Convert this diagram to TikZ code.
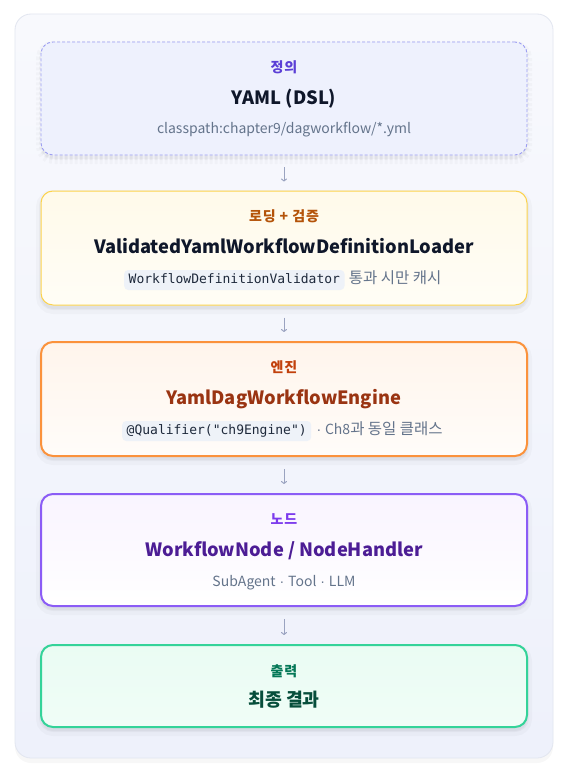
\documentclass[tikz,border=0pt]{standalone}
\usepackage{fontspec}
\setmainfont{Noto Sans CJK KR}
\newfontfamily\monofont{DejaVu Sans Mono}
\newfontfamily\dotfont{Liberation Sans}
\newcommand{\md}{{\dotfont\fontsize{14}{17}\selectfont\ ·\ }}
\newcommand{\ko}[1]{{\fontsize{15.5}{17}\selectfont #1}}
\usetikzlibrary{arrows.meta}
\definecolor{slateA}{HTML}{0F172A}
\definecolor{slateB}{HTML}{64748B}
\definecolor{slateC}{HTML}{1E293B}
\definecolor{chipbg}{HTML}{EEF2F8}
\definecolor{arrowc}{HTML}{9AA3C0}
\definecolor{outerline}{HTML}{E2E6F0}
\definecolor{outertop}{HTML}{F8F9FD}
\definecolor{outerbot}{HTML}{EEF1FB}
\definecolor{defline}{HTML}{9B9CF2}
\definecolor{deffill}{HTML}{EEF1FD}
\definecolor{deflab}{HTML}{5B3FD6}
\definecolor{loadline}{HTML}{FCD34D}
\definecolor{loadfill}{HTML}{FFFAEA}
\definecolor{loadfillb}{HTML}{FFFDF6}
\definecolor{loadlab}{HTML}{B45309}
\definecolor{engline}{HTML}{FB923C}
\definecolor{engfill}{HTML}{FFF5EC}
\definecolor{engfillb}{HTML}{FFFCF9}
\definecolor{englab}{HTML}{C2410C}
\definecolor{engttl}{HTML}{9A3412}
\definecolor{nodeline}{HTML}{8B5CF6}
\definecolor{nodefill}{HTML}{F9F4FF}
\definecolor{nodefillb}{HTML}{FFFFFF}
\definecolor{nodelab}{HTML}{7C3AED}
\definecolor{nodettl}{HTML}{4C1D95}
\definecolor{outline}{HTML}{34D399}
\definecolor{outfill}{HTML}{EAFCF3}
\definecolor{outfillb}{HTML}{F0FDF7}
\definecolor{outlab}{HTML}{047857}
\definecolor{outttl}{HTML}{064E3B}
\tikzset{
  softshadow/.style={preaction={draw=black, draw opacity=0.025, line width=10pt, fill=black, fill opacity=0.03, transform canvas={yshift=-4pt}},
                     preaction={draw=black, draw opacity=0.03, line width=4pt, transform canvas={yshift=-3pt}}},
  card/.style={rectangle, rounded corners=12pt, minimum width=486pt, inner sep=0pt, softshadow},
  lab/.style={anchor=base, inner sep=0pt, font=\bfseries\fontsize{14}{16}\selectfont\addfontfeatures{LetterSpace=6}},
  ttl/.style={anchor=base, inner sep=0pt, font=\bfseries\fontsize{18.3}{22}\selectfont, text=slateA},
  sub/.style={anchor=base, inner sep=0pt, font=\fontsize{14}{17}\selectfont, text=slateB},
  chip/.style={anchor=base west, fill=chipbg, rounded corners=4pt, inner xsep=4.5pt, inner ysep=0pt, text height=10pt, text depth=3pt, minimum height=20pt, font=\monofont\fontsize{13}{15}\selectfont, text=slateC},
  arr/.style={draw=arrowc, line width=1pt, -{To[length=3pt,width=6pt]}, shorten <=12pt, shorten >=9pt}
}
\begin{document}
\begin{tikzpicture}[x=1pt,y=-1pt]
\useasboundingbox[fill=white] (0,0) rectangle (569,768);
% outer container
\path[preaction={fill=black, fill opacity=0.03, transform canvas={yshift=-5pt}}]
  [draw=outerline, line width=0.8pt, rounded corners=16pt, top color=outertop, bottom color=outerbot]
  (15,14) rectangle (553,758);
% cards
\node[card, draw=defline, line width=0.9pt, dash pattern=on 3pt off 2pt, fill=deffill, minimum height=113pt] (def) at (284,98.5) {};
\node[card, draw=loadline, line width=1pt, top color=loadfill, bottom color=loadfillb, minimum height=114pt] (load) at (284,248) {};
\node[card, draw=engline, line width=2pt, top color=engfill, bottom color=engfillb, minimum height=114pt] (eng) at (284,399) {};
\node[card, draw=nodeline, line width=2pt, top color=nodefill, bottom color=nodefillb, minimum height=112pt] (nodes) at (284,550) {};
\node[card, draw=outline, line width=2pt, top color=outfill, bottom color=outfillb, minimum height=82pt] (out) at (284,686) {};
% box 1
\node[lab, text=deflab] (deflabel) at (284,72) {정의};
\node[ttl] (deftitle) at (284,104) {YAML (DSL)};
\node[sub] (defsub) at (284,133) {classpath:chapter9/dagworkflow/*.yml};
% box 2
\node[lab, text=loadlab] (loadlabel) at (284,221.5) {로딩 + 검증};
\node[ttl] (loadtitle) at (284,253) {ValidatedYamlWorkflowDefinitionLoader};
\node[chip] (loadchip) at (124,283.5) {WorkflowDefinitionValidator};
\node[sub, anchor=base west] (loadsub) at ([xshift=4pt]loadchip.base east) {\ko{통과 시만 캐시}};
% box 3
\node[lab, text=englab] (englabel) at (284,372) {엔진};
\node[ttl, text=engttl] (engtitle) at (284,404) {YamlDagWorkflowEngine};
\node[chip] (engchip) at (122,434.5) {@Qualifier("ch9Engine")};
\node[sub, anchor=base west] (engsub) at ([xshift=1pt]engchip.base east) {\md Ch8\ko{과 동일 클래스}};
% box 4
\node[lab, text=nodelab] (nodelabel) at (284,524) {노드};
\node[ttl, text=nodettl] (nodetitle) at (284,556) {WorkflowNode / NodeHandler};
\node[sub] (nodesub) at (284,586) {SubAgent\md Tool\md LLM};
% box 5
\node[lab, text=outlab] (outlabel) at (284,676) {출력};
\node[ttl, text=outttl] (outtitle) at (284,706) {최종 결과};
% arrows
\draw[arr] (def.south) -- (load.north);
\draw[arr] (load.south) -- (eng.north);
\draw[arr] (eng.south) -- (nodes.north);
\draw[arr] (nodes.south) -- (out.north);
\end{tikzpicture}
\end{document}
